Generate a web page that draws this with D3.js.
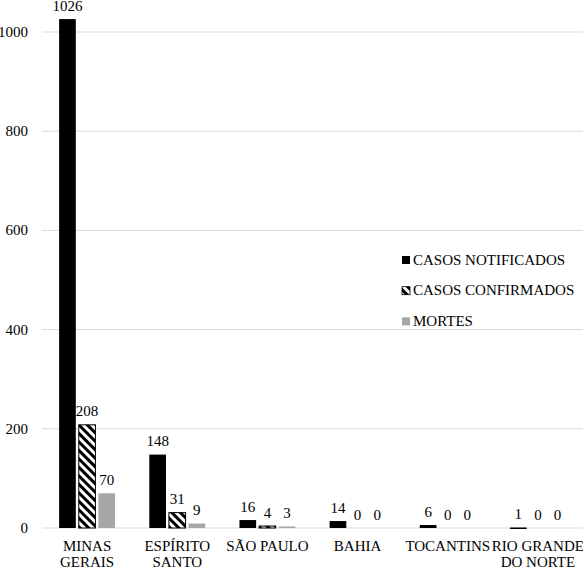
<!DOCTYPE html>
<html>
<head>
<meta charset="utf-8">
<script src="https://cdn.jsdelivr.net/npm/d3@7"></script>
<style>
  body { margin: 0; background: #fff; }
</style>
</head>
<body>
<svg id="chart" width="583" height="568"></svg>
<script>
// Chart data
let states = ["MINAS GERAIS", "ESPÍRITO SANTO", "SÃO PAULO", "BAHIA", "TOCANTINS", "RIO GRANDE DO NORTE"];
let stateLines = [["MINAS", "GERAIS"], ["ESPÍRITO", "SANTO"], ["SÃO PAULO"], ["BAHIA"], ["TOCANTINS"], ["RIO GRANDE", "DO NORTE"]];
let seriesNames = ["CASOS NOTIFICADOS", "CASOS CONFIRMADOS", "MORTES"];
let notificados = [1026, 148, 16, 14, 6, 1];
let confirmados = [208, 31, 4, 0, 0, 0];
let mortes = [70, 9, 3, 0, 0, 0];
let yTicks = [0, 200, 400, 600, 800, 1000];

let seriesValues = [notificados, confirmados, mortes];

let svg = d3.select("svg#chart");

// Layout
let plotLeft = 42;
let plotRight = 583;
let plotTop = 32;
let plotBottom = 528;

let fontName = "Liberation Serif";
let fontSize = 15;
let gridColor = "#d9d9d9";
let greyColor = "#a6a6a6";

// Hatch pattern for confirmed cases
let defs = svg.append("defs");
let pat = defs.append("pattern")
  .attr("id", "hatch")
  .attr("patternUnits", "userSpaceOnUse")
  .attr("width", 6)
  .attr("height", 6)
  .attr("patternTransform", "rotate(-45)");
pat.append("rect").attr("width", 6).attr("height", 6).attr("fill", "#fff");
pat.append("rect").attr("width", 3).attr("height", 6).attr("fill", "#000");

let fills = ["#000", "url(#hatch)", greyColor];

// Scales
const yScale = d3.scaleLinear()
  .domain([0, 1000])
  .range([plotBottom, plotTop]);

const x0 = d3.scaleBand()
  .domain(states)
  .range([plotLeft, plotRight])
  .paddingInner(0.38)
  .paddingOuter(0.19);

const x1 = d3.scaleBand()
  .domain(seriesNames)
  .range([0, x0.bandwidth()])
  .paddingInner(0.15);

// Gridlines
svg.append("g")
  .selectAll("line")
  .data(yTicks)
  .join("line")
  .attr("x1", plotLeft)
  .attr("x2", plotRight)
  .attr("y1", d => yScale(d))
  .attr("y2", d => yScale(d))
  .attr("stroke", gridColor)
  .attr("stroke-width", 1);

// Y axis labels
svg.append("g")
  .selectAll("text")
  .data(yTicks)
  .join("text")
  .attr("x", 28)
  .attr("y", d => yScale(d) + 5)
  .attr("text-anchor", "end")
  .attr("font-family", fontName)
  .attr("font-size", fontSize)
  .text(d => d);

// Bars
states.forEach((s, i) => {
  let g = svg.append("g").attr("transform", "translate(" + x0(s) + ",0)");
  seriesNames.forEach((name, j) => {
    let v = seriesValues[j][i];
    let y = yScale(v);
    let h = plotBottom - y;
    if (v > 0) {
      g.append("rect")
        .attr("x", x1(name))
        .attr("y", y)
        .attr("width", x1.bandwidth())
        .attr("height", Math.max(h, 1.5))
        .attr("fill", fills[j])
        .attr("stroke", j == 1 ? "#000" : "none")
        .attr("stroke-width", 1);
    }
    g.append("text")
      .attr("x", x1(name) + x1.bandwidth() / 2)
      .attr("y", y - 8.5)
      .attr("text-anchor", "middle")
      .attr("font-family", fontName)
      .attr("font-size", fontSize)
      .text(v);
  });
});

// Category labels
svg.append("g")
  .selectAll("text")
  .data(states)
  .join("text")
  .attr("text-anchor", "middle")
  .attr("font-family", fontName)
  .attr("font-size", fontSize)
  .attr("x", d => x0(d) + x0.bandwidth() / 2)
  .attr("y", 551)
  .each(function(d, i) {
    d3.select(this).selectAll("tspan")
      .data(stateLines[i])
      .join("tspan")
      .attr("x", x0(d) + x0.bandwidth() / 2)
      .attr("dy", (t, k) => k == 0 ? 0 : 16.3)
      .text(t => t);
  });

// Legend
let legend = svg.append("g");
seriesNames.forEach((name, j) => {
  let ly = 256 + j * 30.7;
  legend.append("rect")
    .attr("x", 402)
    .attr("y", ly)
    .attr("width", 8)
    .attr("height", 8)
    .attr("fill", fills[j])
    .attr("stroke", j == 1 ? "#000" : "none")
    .attr("stroke-width", 0.8);
  legend.append("text")
    .attr("x", 413)
    .attr("y", ly + 8.5)
    .attr("font-family", fontName)
    .attr("font-size", fontSize)
    .text(name);
});
</script>
</body>
</html>
